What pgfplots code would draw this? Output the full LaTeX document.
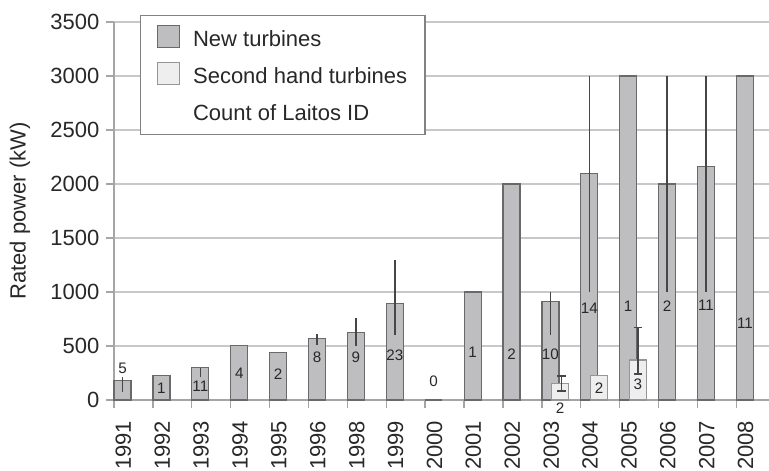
\documentclass[border=0pt]{standalone}
\usepackage{fontspec}
\setmainfont{Liberation Sans}
\usepackage{pgfplots}
\pgfplotsset{compat=1.18}
\definecolor{newfill}{RGB}{190,190,192}
\definecolor{newdraw}{RGB}{105,105,105}
\definecolor{secfill}{RGB}{238,238,238}
\definecolor{secdraw}{RGB}{150,150,150}
\definecolor{gridgray}{RGB}{200,200,200}
\definecolor{axisgray}{RGB}{165,165,165}
\definecolor{errgray}{RGB}{70,70,70}
\definecolor{txt}{RGB}{40,40,40}
\definecolor{legdraw}{RGB}{130,130,130}
\pgfplotsset{
  swatch/.style={legend image code/.code={\draw[##1] (0pt,-3.1pt) rectangle (11pt,7.9pt);}},
  blankswatch/.style={legend image code/.code={\draw[draw=white, fill=white] (0pt,-3.1pt) rectangle (11pt,7.9pt);}}
}
\begin{document}
\begin{tikzpicture}
\begin{axis}[
  name=ax,
  scale only axis, width=327.5pt, height=189pt,
  xmin=-0.24, xmax=16.6, ymin=0, ymax=3500,
  clip=false,
  axis x line*=bottom, axis y line*=left,
  axis line style={-, draw=axisgray, line width=0.7pt},
  ytick={0,500,1000,1500,2000,2500,3000,3500},
  ymajorgrids, grid style={draw=gridgray, line width=0.7pt},
  tick align=outside, major tick length=3.8pt,
  tick style={draw=axisgray, line width=0.7pt},
  xtick={-0.24,0.76,1.76,2.76,3.76,4.76,5.76,6.76,7.76,8.76,9.76,10.76,11.76,12.76,13.76,14.76,15.76},
  xticklabels={},
  extra x ticks={0,1,2,3,4,5,6,7,8,9,10,11,12,13,14,15,16},
  extra x tick labels={1991,1992,1993,1994,1995,1996,1998,1999,2000,2001,2002,2003,2004,2005,2006,2007,2008},
  extra x tick style={grid=none, tick style={draw=none}},
  xticklabel style={rotate=90, anchor=east, inner xsep=6.5pt},
  tick label style={font=\fontsize{11}{13}\selectfont, text=txt},
  /pgf/number format/assume math mode=true,
  /pgf/number format/1000 sep={},
  ylabel={Rated power (kW)},
  ylabel style={at={(axis description cs:-0.1435,0.5)}, anchor=center, font=\fontsize{11}{13}\selectfont, text=txt},
  legend style={at={(axis description cs:0.0397,1.0185)}, anchor=north west,
    draw=legdraw, line width=0.7pt, fill=white, text=txt,
    font=\fontsize{11}{13}\selectfont,
    inner xsep=8pt, inner ysep=4.5pt, row sep=5pt, column sep=6.5pt,
    nodes={inner sep=0pt, text height=8pt, text depth=2.5pt}},
  legend cell align=left,
]
% New turbines
\addplot[ybar, bar width=0.437, bar shift=0pt, fill=newfill, draw=newdraw, line width=0.6pt, swatch]
coordinates {
(-0.02,180) (0.98,225) (1.98,300) (2.98,505) (3.98,440) (4.98,570) (5.98,625) (6.98,890)
(7.98,0) (8.98,1000) (9.98,2000) (10.98,910) (11.98,2100) (12.98,3000) (13.98,2000)
(14.98,2160) (15.98,3000)
};
\addlegendentry{New turbines}
% Second hand turbines
\addplot[ybar, bar width=0.437, bar shift=0pt, fill=secfill, draw=secdraw, line width=0.6pt, swatch]
coordinates {
(11.23,150) (12.23,225) (13.23,370)
};
\addlegendentry{Second hand turbines\hspace*{1pt}}
% error ranges, new turbines (no caps)
\addplot[forget plot, draw=none, mark=none,
  error bars/.cd, y dir=both, y explicit, error mark=none,
  error bar style={draw=errgray, line width=0.8pt}]
coordinates {
(-0.02,145) +- (0,70)
(1.98,255) +- (0,45)
(4.98,560) +- (0,50)
(5.98,630) +- (0,130)
(6.98,950) +- (0,350)
(10.98,800) +- (0,200)
(11.98,2000) +- (0,1000)
(13.98,2000) +- (0,1000)
(14.98,2000) +- (0,1000)
};
% error ranges, second hand turbines (with caps)
\addplot[forget plot, draw=none, mark=none,
  error bars/.cd, y dir=both, y explicit,
  error bar style={draw=errgray, line width=0.8pt},
  error mark options={draw=errgray, line width=0.8pt, mark size=2.2pt, rotate=90}]
coordinates {
(11.27,152) +- (0,68)
(13.23,455) +- (0,215)
};
% counts, new turbines
\addplot[forget plot, only marks, mark=none, nodes near coords, point meta=explicit symbolic,
  nodes near coords style={anchor=center, inner sep=0pt, font=\fontsize{7.6}{9}\selectfont, text=txt}]
coordinates {
(-0.02,290) [5] (0.98,105) [1] (1.98,130) [11] (2.98,250) [4] (3.98,240) [2]
(4.98,400) [8] (5.98,400) [9] (6.98,410) [23] (7.98,170) [0] (8.98,440) [1]
(9.98,425) [2] (10.98,425) [10] (11.98,850) [14] (12.98,865) [1] (13.98,870) [2]
(14.98,880) [11] (15.98,710) [11]
};
% counts, second hand turbines
\addplot[forget plot, only marks, mark=none, nodes near coords, point meta=explicit symbolic,
  nodes near coords style={anchor=center, inner sep=0pt, font=\fontsize{7.6}{9}\selectfont, text=txt}]
coordinates {
(11.23,-75) [2] (12.23,110) [2] (13.23,150) [3]
};
\addlegendimage{blankswatch}
\addlegendentry{Count of Laitos ID}
\end{axis}
\pgfresetboundingbox
\path[use as bounding box] ([xshift=-57pt,yshift=-35pt]ax.south west) rectangle ([yshift=11pt]ax.north east);
\end{tikzpicture}
\end{document}
